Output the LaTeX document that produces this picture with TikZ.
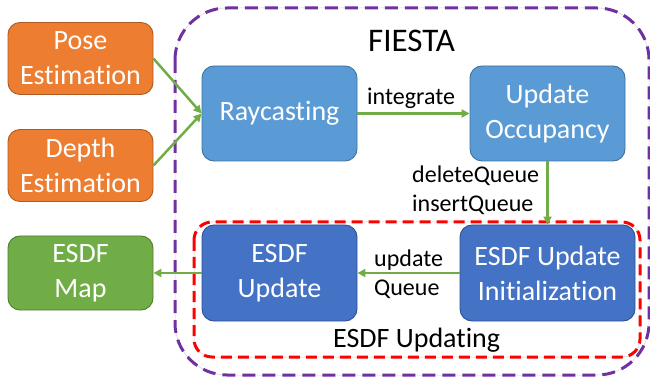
\documentclass[tikz,border=0pt]{standalone}
\usepackage{fontspec}
\setmainfont{Carlito}[Ligatures=CommonOff]
\usetikzlibrary{arrows.meta}
\definecolor{inputfill}{HTML}{ED7D31}
\definecolor{inputline}{HTML}{AE5A21}
\definecolor{lightfill}{HTML}{5B9BD5}
\definecolor{lightline}{HTML}{41719C}
\definecolor{darkfill}{HTML}{4472C4}
\definecolor{darkline}{HTML}{2F528F}
\definecolor{mapfill}{HTML}{70AD47}
\definecolor{mapline}{HTML}{507E32}
\definecolor{flow}{HTML}{70AD47}
\definecolor{frame}{HTML}{7030A0}
\definecolor{subframe}{HTML}{FF0000}
\begin{document}
\begin{tikzpicture}[x=1pt,y=-1pt,
  block/.style={rounded corners=12pt, line width=0.9pt, text=white, align=center,
    font=\fontsize{28}{35}\selectfont, inner sep=0pt},
  inbox/.style={block, fill=inputfill, draw=inputline, minimum width=145pt, minimum height=72pt},
  lightbox/.style={block, fill=lightfill, draw=lightline, minimum width=155pt, minimum height=95pt},
  darkbox/.style={block, fill=darkfill, draw=darkline, minimum height=96pt},
  mapbox/.style={block, fill=mapfill, draw=mapline, minimum width=145pt, minimum height=74pt},
  flowarrow/.style={draw=flow, line width=2.5pt, -{Triangle[length=8pt,width=8pt]}},
  edgelabel/.style={inner sep=0pt, font=\fontsize{24}{29}\selectfont, align=left},
  guide/.style={draw=gray!35, line width=0.5pt},
]
\useasboundingbox (0,0) rectangle (650,379);

% FIESTA frame and ESDF updating frame
\draw[guide, rounded corners=52pt] (175,8) rectangle (649,375);
\draw[frame, line width=3pt, dash pattern=on 13pt off 7pt, rounded corners=52pt] (175,8) rectangle (649,375);
\draw[guide, rounded corners=18pt] (194,222) rectangle (640,357);
\draw[subframe, line width=3pt, dash pattern=on 11pt off 6pt, rounded corners=18pt] (194,222) rectangle (640,357);

\node[inner sep=0pt, anchor=base west, font=\fontsize{33}{40}\selectfont] (fiesta) at (368,52) {FIESTA};
\node[inner sep=0pt, anchor=base west, font=\fontsize{28}{34}\selectfont] (updating) at (333,347) {ESDF Updating};

% blocks
\node[inbox] (pose) at (80.5,58.5) {Pose\\Estimation};
\node[inbox] (depth) at (80.5,165.5) {Depth\\Estimation};
\node[mapbox] (map) at (80.5,273) {ESDF\\Map};
\node[lightbox] (ray) at (279.5,113.5) {Raycasting};
\node[lightbox] (occ) at (547.5,113.5) {Update\\Occupancy};
\node[darkbox, minimum width=155pt] (upd) at (279.5,273) {ESDF\\Update};
\node[darkbox, minimum width=175pt] (init) at (547.5,273) {ESDF Update\\Initialization};

% connectors
\draw[flowarrow] (pose.east) -- (ray.west);
\draw[flowarrow] (depth.east) -- (ray.west);
\draw[flowarrow] (ray.east) -- (occ.west);
\draw[flowarrow] (occ.south) -- (init.north);
\draw[flowarrow] (init.west) -- (upd.east);
\draw[flowarrow] (upd.west) -- (map.east);

% connector labels
\node[edgelabel, anchor=base west] (lint) at (367,105) {integrate};
\node[edgelabel, anchor=west] (lqueues) at (412,190) {deleteQueue\\insertQueue};
\node[edgelabel, anchor=west] (lupd) at (374,274) {update\\Queue};
\end{tikzpicture}
\end{document}
